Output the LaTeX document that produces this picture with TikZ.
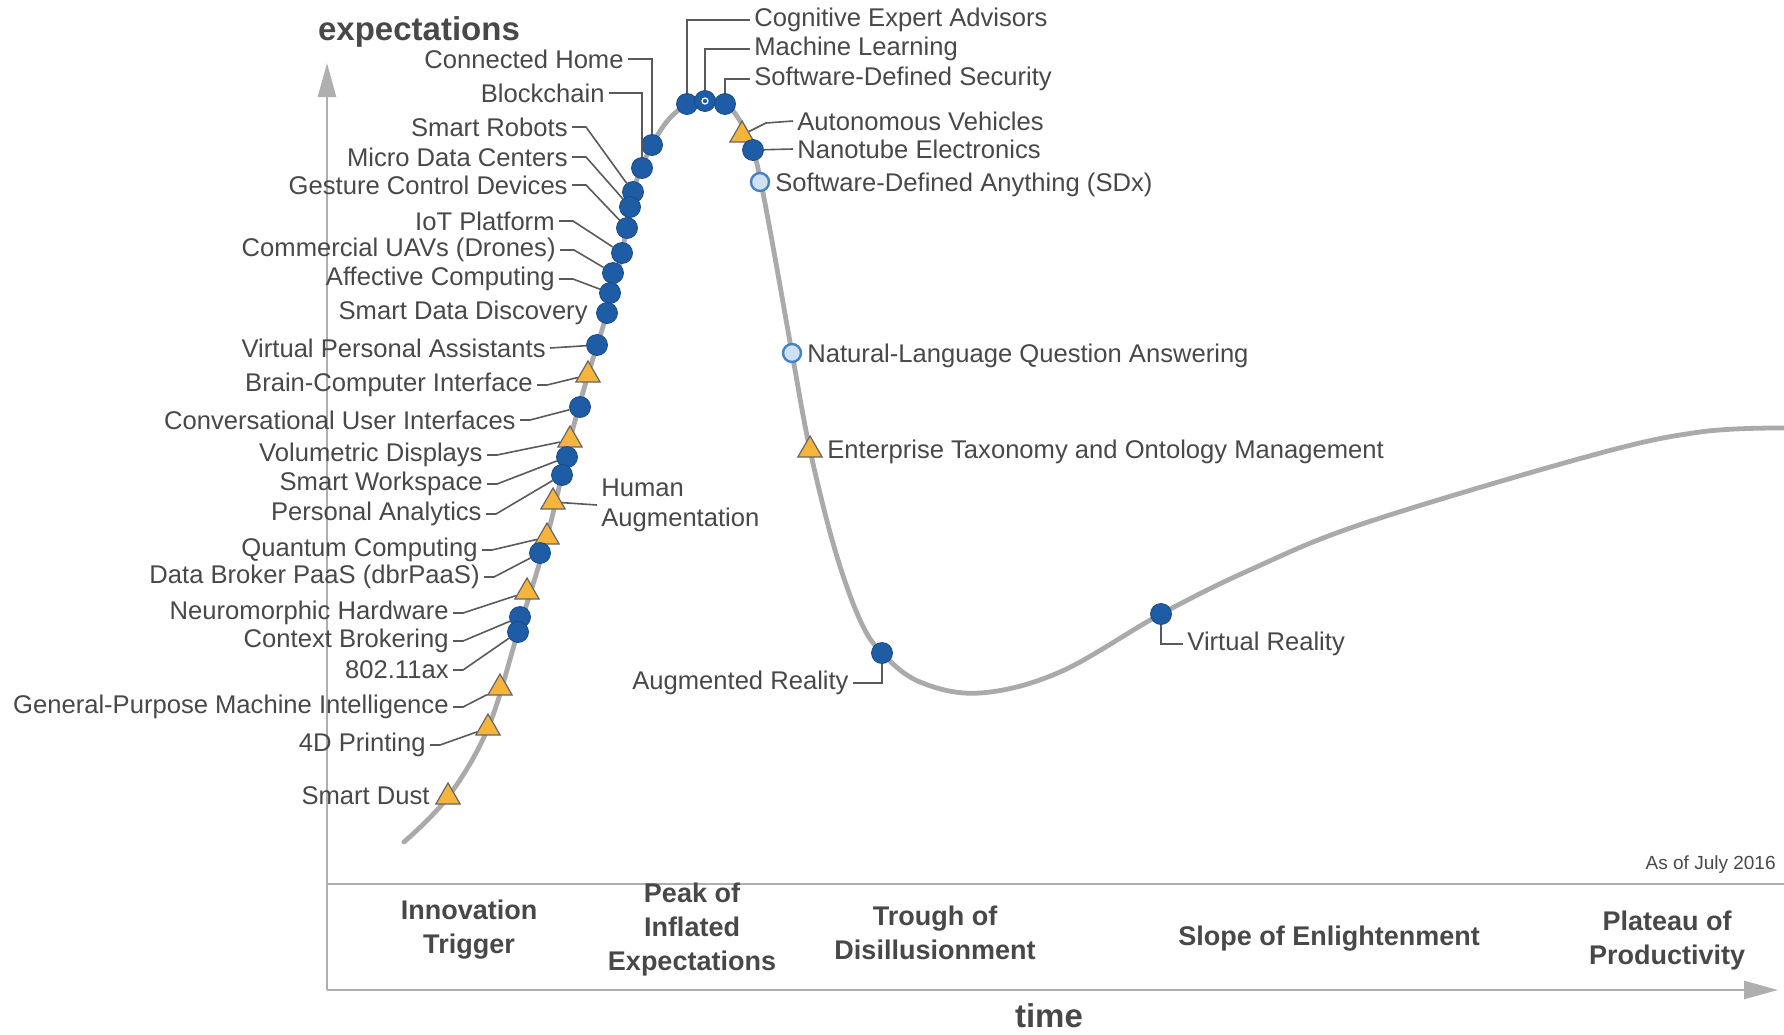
\documentclass[tikz,border=0pt]{standalone}
\usepackage{fontspec}
\setmainfont{Liberation Sans}
\usetikzlibrary{shapes.geometric,arrows.meta}
\definecolor{hiblue}{RGB}{31,92,166}
\definecolor{loblue}{RGB}{205,225,242}
\definecolor{loring}{RGB}{70,130,195}
\definecolor{faryel}{RGB}{245,180,60}
\definecolor{txtgray}{RGB}{72,72,72}
\definecolor{congray}{RGB}{90,90,90}
\definecolor{curvegray}{RGB}{170,170,170}
\definecolor{axisgray}{RGB}{175,175,175}
\begin{document}
\begin{tikzpicture}[x=0.5pt,y=-0.5pt,
    hi/.style={circle,fill=hiblue,draw=hiblue!80!black,minimum size=10.5pt,inner sep=0pt},
    lo/.style={circle,fill=loblue,draw=loring,line width=1.2pt,minimum size=9pt,inner sep=0pt},
    far/.style={regular polygon,regular polygon sides=3,fill=faryel,draw=black!60,line width=0.6pt,minimum size=14pt,inner sep=0pt},
    lbl/.style={text=txtgray,font=\fontsize{12.8}{15}\selectfont,inner sep=2pt},
    phase/.style={text=txtgray,font=\bfseries\fontsize{13.5}{17}\selectfont,align=center},
    axis/.style={draw=axisgray,line width=1.3pt}]
  \useasboundingbox (0,0) rectangle (1784,1034);
  % axes and phase band
  \draw[axis,-{Triangle[length=17pt,width=9pt]}] (327,990) -- (327,63);
  \draw[axis,-{Triangle[length=17pt,width=9pt]}] (327,990) -- (1778,990);
  \draw[axis] (327,884) -- (1784,884);
  \node[text=txtgray,font=\bfseries\fontsize{16.5}{18}\selectfont,inner sep=0pt] (ylab) at (419,32) {expectations};
  \node[text=txtgray,font=\bfseries\fontsize{16.5}{18}\selectfont,inner sep=0pt] (xlab) at (1049,1016) {time};
  \node[lbl,font=\fontsize{9.5}{11}\selectfont,anchor=east] (date) at (1780,865) {As of July 2016};
  \draw
    (469,930) node[phase] (p1){Innovation\\Trigger}
    (692,930) node[phase] (p2){Peak of\\Inflated\\Expectations}
    (935,933) node[phase] (p3){Trough of\\Disillusionment}
    (1329,939) node[phase] (p4){Slope of Enlightenment}
    (1667,941) node[phase] (p5){Plateau of\\Productivity};
  % the curve
  \draw[curvegray,line width=2.4pt,line cap=round]
    plot[smooth,tension=0.6] coordinates {(404,842) (448,797) (488,728) (518,632) (547,537)
      (570,440) (588,375) (607,313) (622,253) (633,192) (652,145) (675,113) (705,99)
      (728,106) (745,130) (756,160) (770,230) (792,353) (810,450) (835,550) (860,620)
      (882,653) (920,682) (980,693) (1060,672) (1161,614) (1252,569) (1365,523)
      (1593,455) (1700,432) (1784,428)};
  % markers
  \draw
    (652,145) node[hi] (1){}
    (642,168) node[hi] (2){}
    (633,192) node[hi] (3){}
    (630,207) node[hi] (4){}
    (627,228) node[hi] (5){}
    (622,253) node[hi] (6){}
    (613,273) node[hi] (7){}
    (610,293) node[hi] (8){}
    (607,313) node[hi] (9){}
    (597,345) node[hi] (10){}
    (588,375) node[far] (11){}
    (580,407) node[hi] (12){}
    (570,440) node[far] (13){}
    (567,457) node[hi] (14){}
    (562,475) node[hi] (15){}
    (553,502) node[far] (16){}
    (547,537) node[far] (17){}
    (540,553) node[hi] (18){}
    (527,592) node[far] (19){}
    (520,617) node[hi] (20){}
    (518,632) node[hi] (21){}
    (500,688) node[far] (22){}
    (488,728) node[far] (23){}
    (448,797) node[far] (24){}
    (687,104) node[hi] (25){}
    (705,101) node[hi] (26){}
    (725,104) node[hi] (27){}
    (742,135) node[far] (28){}
    (753,150) node[hi] (29){}
    (760,182) node[lo] (30){}
    (792,353) node[lo] (31){}
    (810,450) node[far] (32){}
    (882,653) node[hi] (33){}
    (1161,614) node[hi] (34){};
  \node[circle,draw=white,line width=0.6pt,minimum size=3pt,inner sep=0pt] (26w) at (26) {};
  % labels
  \draw
    (628,59) node[lbl,anchor=east] (t1){Connected Home}
    (609,93) node[lbl,anchor=east] (t2){Blockchain}
    (572,127) node[lbl,anchor=east] (t3){Smart Robots}
    (572,157) node[lbl,anchor=east] (t4){Micro Data Centers}
    (572,185) node[lbl,anchor=east] (t5){Gesture Control Devices}
    (559,221) node[lbl,anchor=east] (t6){IoT Platform}
    (560,250) node[lbl,anchor=east] (t7){Commercial UAVs (Drones)}
    (559,279) node[lbl,anchor=east] (t8){Affective Computing}
    (592,313) node[lbl,anchor=east] (t9){Smart Data Discovery}
    (550,348) node[lbl,anchor=east] (t10){Virtual Personal Assistants}
    (537,385) node[lbl,anchor=east] (t11){Brain-Computer Interface}
    (520,420) node[lbl,anchor=east] (t12){Conversational User Interfaces}
    (487,455) node[lbl,anchor=east] (t13){Volumetric Displays}
    (487,484) node[lbl,anchor=east] (t14){Smart Workspace}
    (486,514) node[lbl,anchor=east] (t15){Personal Analytics}
    (597,505) node[lbl,anchor=west,align=left] (t16){Human\\Augmentation}
    (482,550) node[lbl,anchor=east] (t17){Quantum Computing}
    (484,577) node[lbl,anchor=east] (t18){Data Broker PaaS (dbrPaaS)}
    (453,613) node[lbl,anchor=east] (t19){Neuromorphic Hardware}
    (453,641) node[lbl,anchor=east] (t20){Context Brokering}
    (453,670) node[lbl,anchor=east] (t21){802.11ax}
    (453,707) node[lbl,anchor=east] (t22){General-Purpose Machine Intelligence}
    (430,745) node[lbl,anchor=east] (t23){4D Printing}
    (434,796) node[lbl,anchor=east] (t24){Smart Dust}
    (750,20) node[lbl,anchor=west] (t25){Cognitive Expert Advisors}
    (750,49) node[lbl,anchor=west] (t26){Machine Learning}
    (750,79) node[lbl,anchor=west] (t27){Software-Defined Security}
    (793,121) node[lbl,anchor=west] (t28){Autonomous Vehicles}
    (793,149) node[lbl,anchor=west] (t29){Nanotube Electronics}
    (771,185) node[lbl,anchor=west] (t30){Software-Defined Anything (SDx)}
    (803,356) node[lbl,anchor=west] (t31){Natural-Language Question Answering}
    (823,452) node[lbl,anchor=west] (t32){Enterprise Taxonomy and Ontology Management}
    (853,683) node[lbl,anchor=east] (t33){Augmented Reality}
    (1183,644) node[lbl,anchor=west] (t34){Virtual Reality};
  % connectors
  \begin{scope}[congray,line width=0.8pt]
    \draw (t1.east) -| (1);
    \draw (t2.east) -| (2);
    \draw (t3.east) -- ++(14,0) -- (3);
    \draw (t4.east) -- ++(14,0) -- (4);
    \draw (t5.east) -- ++(14,0) -- (5);
    \draw (t6.east) -- ++(14,0) -- (6);
    \draw (t7.east) -- ++(14,0) -- (7);
    \draw (t8.east) -- ++(14,0) -- (8);
    \draw (t10.east) -- (10);
    \draw (t11.east) -- ++(10,0) -- (11);
    \draw (t12.east) -- ++(10,0) -- (12);
    \draw (t13.east) -- ++(10,0) -- (13);
    \draw (t14.east) -- ++(10,0) -- (14);
    \draw (t15.east) -- ++(10,0) -- (15);
    \draw (16) -- (t16.west);
    \draw (t17.east) -- ++(10,0) -- (17);
    \draw (t18.east) -- ++(10,0) -- (18);
    \draw (t19.east) -- ++(10,0) -- (19);
    \draw (t20.east) -- ++(10,0) -- (20);
    \draw (t21.east) -- ++(10,0) -- (21);
    \draw (t22.east) -- ++(10,0) -- (22);
    \draw (t23.east) -- ++(10,0) -- (23);
    \draw (25) |- (t25.west);
    \draw (26) |- (t26.west);
    \draw (27) |- (t27.west);
    \draw (28) -- ++(24,-12) -- (t28.west);
    \draw (29) -- (t29.west);
    \draw (33) |- (t33.east);
    \draw (34) |- (t34.west);
  \end{scope}
\end{tikzpicture}
\end{document}
